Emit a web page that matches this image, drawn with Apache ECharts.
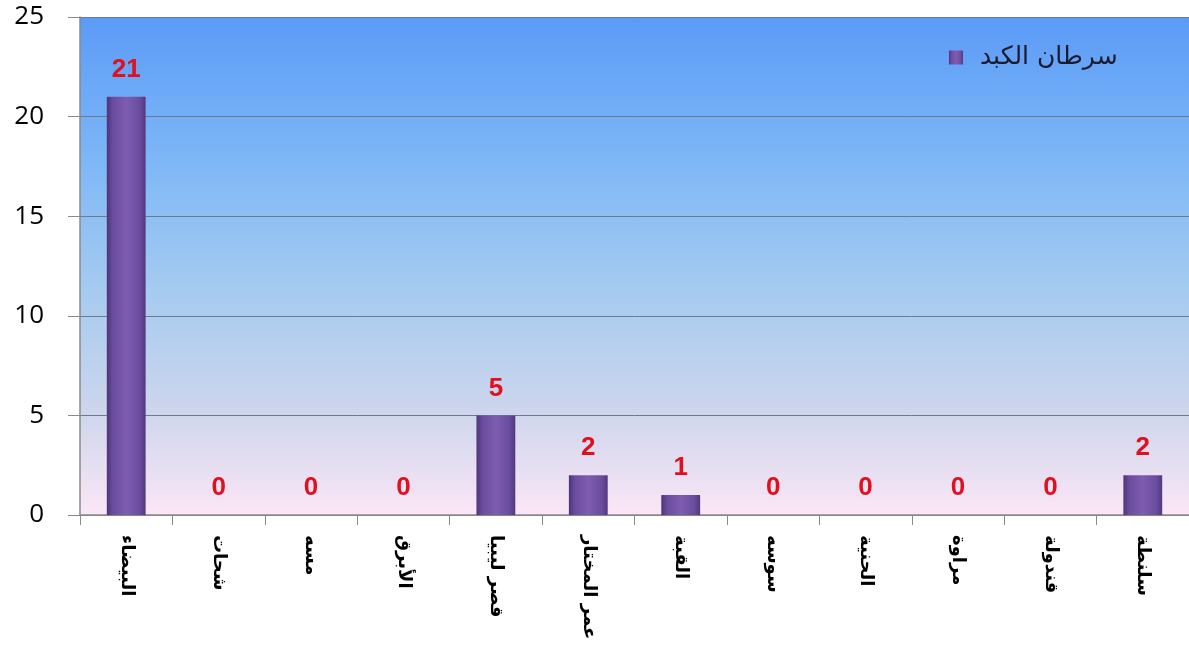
<!DOCTYPE html>
<html>
<head>
<meta charset="utf-8">
<style>
  html, body { margin: 0; padding: 0; background: #ffffff; }
  #chart { width: 1189px; height: 653px; }
</style>
<script src="https://cdn.jsdelivr.net/npm/echarts@6/dist/echarts.min.js"></script>
</head>
<body>
<div id="chart"></div>
<script>
// Liver cancer cases by municipality
const categories = ['البيضاء', 'شحات', 'مسه', 'الأبرق', 'قصر ليبيا', 'عمر المختار', 'القبة', 'سوسه', 'الحنية', 'مراوة', 'قندولة', 'سلنطة'];
const seriesName = 'سرطان الكبد';
const cases = [21, 0, 0, 0, 5, 2, 1, 0, 0, 0, 0, 2];
const yTicks = [0, 5, 10, 15, 20, 25];

const chart = echarts.init(document.getElementById('chart'), null, { renderer: 'canvas' });

const plotBackground = new echarts.graphic.LinearGradient(0, 0, 0, 1, [
  { offset: 0.00, color: '#5b9bf7' },
  { offset: 0.30, color: '#7fb8f6' },
  { offset: 0.55, color: '#a5cbf0' },
  { offset: 0.78, color: '#cbd5ec' },
  { offset: 1.00, color: '#fbe6f6' }
]);

const barFill = new echarts.graphic.LinearGradient(0, 0, 1, 0, [
  { offset: 0.00, color: '#4e3478' },
  { offset: 0.15, color: '#6a4c9e' },
  { offset: 0.50, color: '#7e5db0' },
  { offset: 0.85, color: '#6a4c9e' },
  { offset: 1.00, color: '#52387e' }
]);

chart.setOption({
  animation: false,
  grid: {
    left: 80, right: 0, top: 17, bottom: 138,
    show: true, borderWidth: 0,
    backgroundColor: plotBackground
  },
  legend: {
    data: [{ name: seriesName, icon: 'rect' }],
    left: 944, top: 40,
    itemWidth: 14, itemHeight: 14,
    textStyle: {
      fontFamily: 'DejaVu Sans', fontSize: 25, color: '#1a1a2e',
      padding: [0, 0, 0, 12]
    }
  },
  xAxis: {
    type: 'category',
    data: categories,
    axisLine: { lineStyle: { color: '#8a8a8a', width: 1.5 } },
    axisTick: { show: true, length: 10, lineStyle: { color: '#8a8a8a' } },
    axisLabel: {
      rotate: -90, margin: 20, interval: 0,
      fontFamily: 'DejaVu Sans', fontSize: 18, fontWeight: 'bold', color: '#000000'
    }
  },
  yAxis: {
    type: 'value',
    min: yTicks[0], max: yTicks[yTicks.length - 1], interval: 5,
    axisLine: { show: true, lineStyle: { color: '#8a8a8a', width: 1.5 } },
    axisTick: { show: true, length: 12, lineStyle: { color: '#8a8a8a' } },
    axisLabel: { margin: 36, fontFamily: 'Open Sans', fontSize: 26, color: '#000000' },
    splitLine: { show: true, lineStyle: { color: '#6f7a88', width: 1 } }
  },
  series: [{
    name: seriesName,
    type: 'bar',
    data: cases,
    barWidth: '42%',
    itemStyle: { color: barFill, borderWidth: 0 },
    label: {
      show: true, position: 'top', distance: 14,
      fontFamily: 'Liberation Sans', fontWeight: 'bold', fontSize: 26, color: '#e0101f'
    }
  }]
});
</script>
</body>
</html>
